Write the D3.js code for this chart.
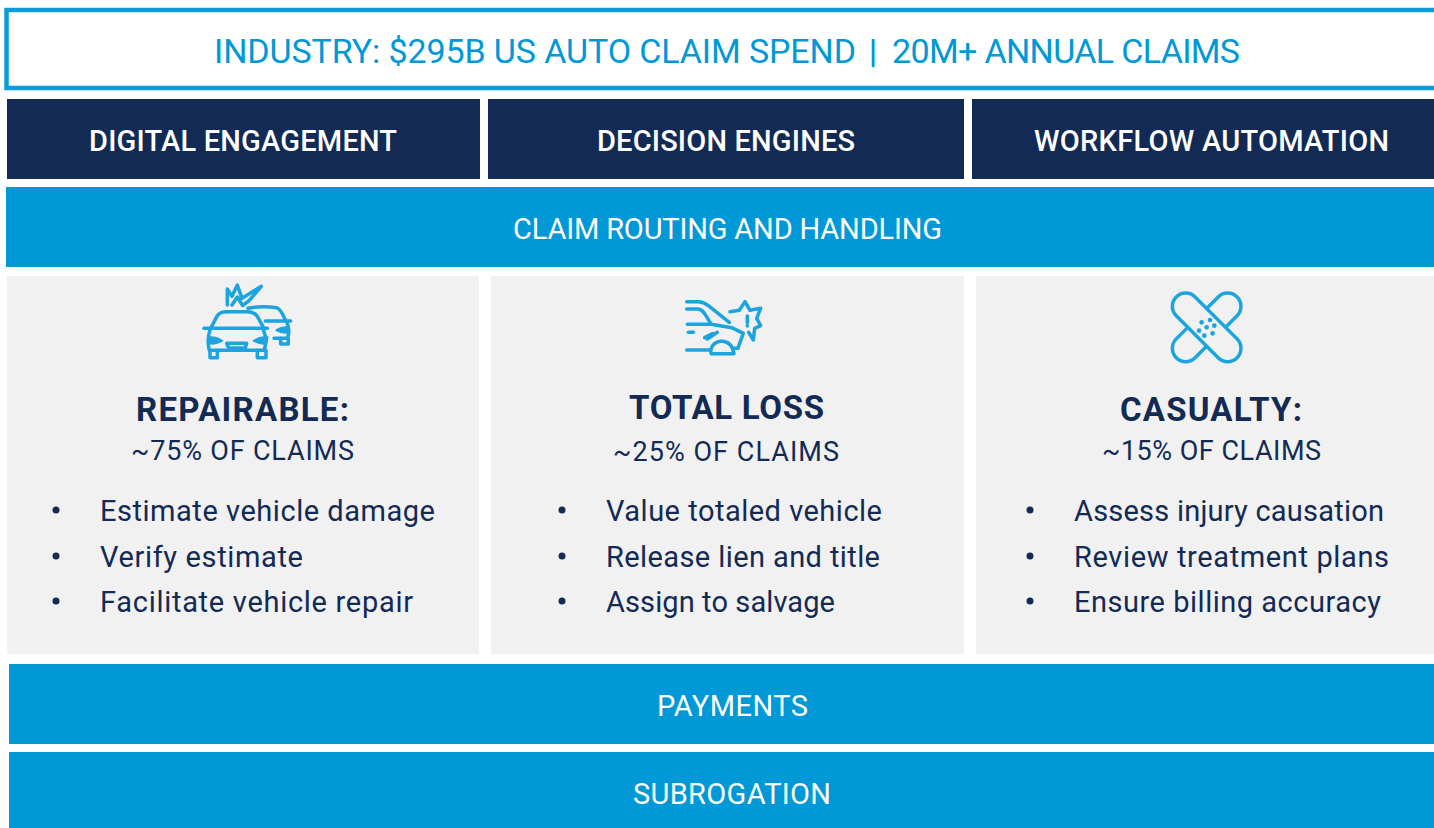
<!DOCTYPE html>
<html>
<head>
<meta charset="utf-8">
<script src="https://cdn.jsdelivr.net/npm/d3@7"></script>
<style>
html,body{margin:0;padding:0;background:#fff;overflow:hidden}
svg{display:block}
text{font-family:Roboto,"Noto Sans",sans-serif}
</style>
</head>
<body>
<svg></svg>
<script>
var w = 1434, h = 828;

var navy = "#122a54", blue = "#0098d6", grey = "#f1f1f1", iconBlue = "#1ca4df";

// content
var titleParts = ["INDUSTRY: $295B US AUTO CLAIM SPEND", "20M+ ANNUAL CLAIMS"];
var titleSep = "|";
var topLabels = ["DIGITAL ENGAGEMENT", "DECISION ENGINES", "WORKFLOW AUTOMATION"];
var bandLabels = ["CLAIM ROUTING AND HANDLING", "PAYMENTS", "SUBROGATION"];
var panelHeads = ["REPAIRABLE:", "TOTAL LOSS", "CASUALTY:"];
var panelShares = ["~75% OF CLAIMS", "~25% OF CLAIMS", "~15% OF CLAIMS"];
var repairableItems = ["Estimate vehicle damage", "Verify estimate", "Facilitate vehicle repair"];
var totalLossItems = ["Value totaled vehicle", "Release lien and title", "Assign to salvage"];
var casualtyItems = ["Assess injury causation", "Review treatment plans", "Ensure billing accuracy"];
var panelItems = [repairableItems, totalLossItems, casualtyItems];

// layout
var titleText = [[214,856],[892,1240]];
var topBoxes = [[7,480],[488,964],[972,1434]];
var topText = [[89,397],[597,855],[1034,1389]];
var bands = [[6,187,267],[9,664,744],[9,752,828]];
var bandText = [[513,942,239],[657,808,716],[633,831,804]];
var panels = [[7,479],[491,964],[976,1434]];
var headText = [[136,349,421],[629,824,419],[1120,1302,421]];
var shareText = [[131,354,460],[613,839,461],[1102,1321,460]];
var bulletX = [56,562,1030];
var itemX = [100,606,1074];
var itemEnds = [[435,303,413],[882,880,835],[1384,1389,1381]];
var itemY = [521,567,612];

var svg = d3.select("svg").attr("width", w).attr("height", h);

// soft edge on the icons, they are blurry bitmaps in the source
svg.append("defs").append("filter").attr("id","soft")
  .append("feGaussianBlur").attr("stdDeviation",1.4);

// draws text stretched between two x positions
function label(x0, x1, y, str, size, weight, fill){
  return svg.append("text")
    .attr("x", x0).attr("y", y)
    .attr("textLength", x1-x0).attr("lengthAdjust", "spacing")
    .attr("font-size", size).attr("font-weight", weight)
    .attr("fill", fill)
    .text(str);
}

// title box
svg.append("rect").attr("x",6.5).attr("y",10).attr("width",w).attr("height",78)
  .attr("fill","#fff").attr("stroke","#0a9dda").attr("stroke-width",4.5);
titleParts.forEach((t,i)=>label(titleText[i][0],titleText[i][1],63,t,34,400,blue));
svg.append("text").attr("x",873).attr("y",63).attr("text-anchor","middle")
  .attr("font-size",34).attr("font-weight",500).attr("fill",blue).text(titleSep);

// navy row
svg.selectAll(".top").data(topBoxes).enter().append("rect").attr("class","top")
  .attr("x",d=>d[0]).attr("y",99).attr("width",d=>d[1]-d[0]).attr("height",80).attr("fill",navy);
topLabels.forEach((t,i)=>label(topText[i][0],topText[i][1],151,t,29,500,"#fff"));

// blue bands
svg.selectAll(".band").data(bands).enter().append("rect").attr("class","band")
  .attr("x",d=>d[0]).attr("y",d=>d[1]).attr("width",d=>w-d[0]).attr("height",d=>d[2]-d[1]).attr("fill",blue);
bandLabels.forEach((t,i)=>label(bandText[i][0],bandText[i][1],bandText[i][2],t,29,400,"#fff"));

// grey panels
svg.selectAll(".panel").data(panels).enter().append("rect").attr("class","panel")
  .attr("x",d=>d[0]).attr("y",276).attr("width",d=>d[1]-d[0]).attr("height",378).attr("fill",grey);

panelHeads.forEach(function(t,i){
  label(headText[i][0],headText[i][1],headText[i][2],t,33,700,navy);
  label(shareText[i][0],shareText[i][1],shareText[i][2],panelShares[i],27,400,navy);
  panelItems[i].forEach(function(s,j){
    svg.append("circle").attr("cx",bulletX[i]).attr("cy",itemY[j]-11).attr("r",3.5).attr("fill",navy);
    label(itemX[i],itemEnds[i][j],itemY[j],s,29,400,navy);
  });
});

// icons, drawn at 3x and scaled down
function icon(x, y){
  return svg.append("g").attr("transform","translate("+x+","+y+") scale(0.3333)")
    .attr("filter","url(#soft)")
    .attr("fill","none").attr("stroke",iconBlue).attr("stroke-width",10.5)
    .attr("stroke-linejoin","round").attr("stroke-linecap","round");
}
function paths(g, list){ list.forEach(d=>g.append("path").attr("d",d)); }
function blobs(g, list){ list.forEach(d=>g.append("path").attr("d",d).attr("fill",iconBlue).attr("stroke-width",4)); }

var crash = icon(180,275);
paths(crash,[
  "M92,160 L112,122 Q120,110 140,110 L200,110 Q222,110 232,124 L252,160",
  "M72,160 H262",
  "M90,165 Q80,195 88,226 H252 Q264,195 250,165",
  "M90,226 V248 H112 V226 M232,226 V248 H258 V226",
  "M140,205 H200 L196,219 H146 Z",
  "M204,100 Q240,92 290,98 Q302,102 316,135",
  "M256,138 H332",
  "M320,140 Q332,170 322,190 H282",
  "M302,190 V207 H325 V190",
  "M142,90 L142,42 L156,64 L172,30 L186,70 L244,34 L208,76 L188,92 L172,66 L156,90"
]);
blobs(crash,[
  "M84,186 Q112,184 128,198 Q106,210 88,206 Z",
  "M264,186 Q236,184 220,198 Q242,210 260,206 Z",
  "M324,156 Q302,154 288,166 Q306,176 322,174 Z"
]);

var wreck = icon(670,285);
paths(wreck,[
  "M50,50 H85 Q100,50 115,62 L178,112",
  "M50,72 H85 Q96,74 104,86 L124,118 H52",
  "M124,118 L185,128 L220,145 L205,186",
  "M55,142 H70",
  "M104,158 L128,146 M112,162 L142,142",
  "M50,195 H122 Q128,170 155,168 Q186,170 192,206 H124 Q122,200 122,195",
  "M192,190 H204",
  "M180,80 L208,76 L225,50 L240,76 L272,70 L260,100 L272,122 L254,130 L250,165 L236,142",
  "M232,93 V114 M232,122 V123"
]);

var plaster = icon(1160,285);
var bandW = 80, bandL = 258, cx = 140, cy = 127;
plaster.append("rect")
  .attr("x",cx-bandL/2).attr("y",cy-bandW/2).attr("width",bandL).attr("height",bandW).attr("rx",bandW/2)
  .attr("transform","rotate(-45 "+cx+" "+cy+")").attr("fill",grey);
plaster.append("rect")
  .attr("x",cx-bandL/2).attr("y",cy-bandW/2).attr("width",bandL).attr("height",bandW).attr("rx",bandW/2)
  .attr("transform","rotate(45 "+cx+" "+cy+")").attr("fill",grey);
[[150,103],[125,110],[163,120],[140,125],[117,135],[158,143],[133,150]].forEach(function(p){
  plaster.append("circle").attr("cx",p[0]).attr("cy",p[1]+2).attr("r",7).attr("fill",iconBlue).attr("stroke","none");
});
</script>
</body>
</html>
